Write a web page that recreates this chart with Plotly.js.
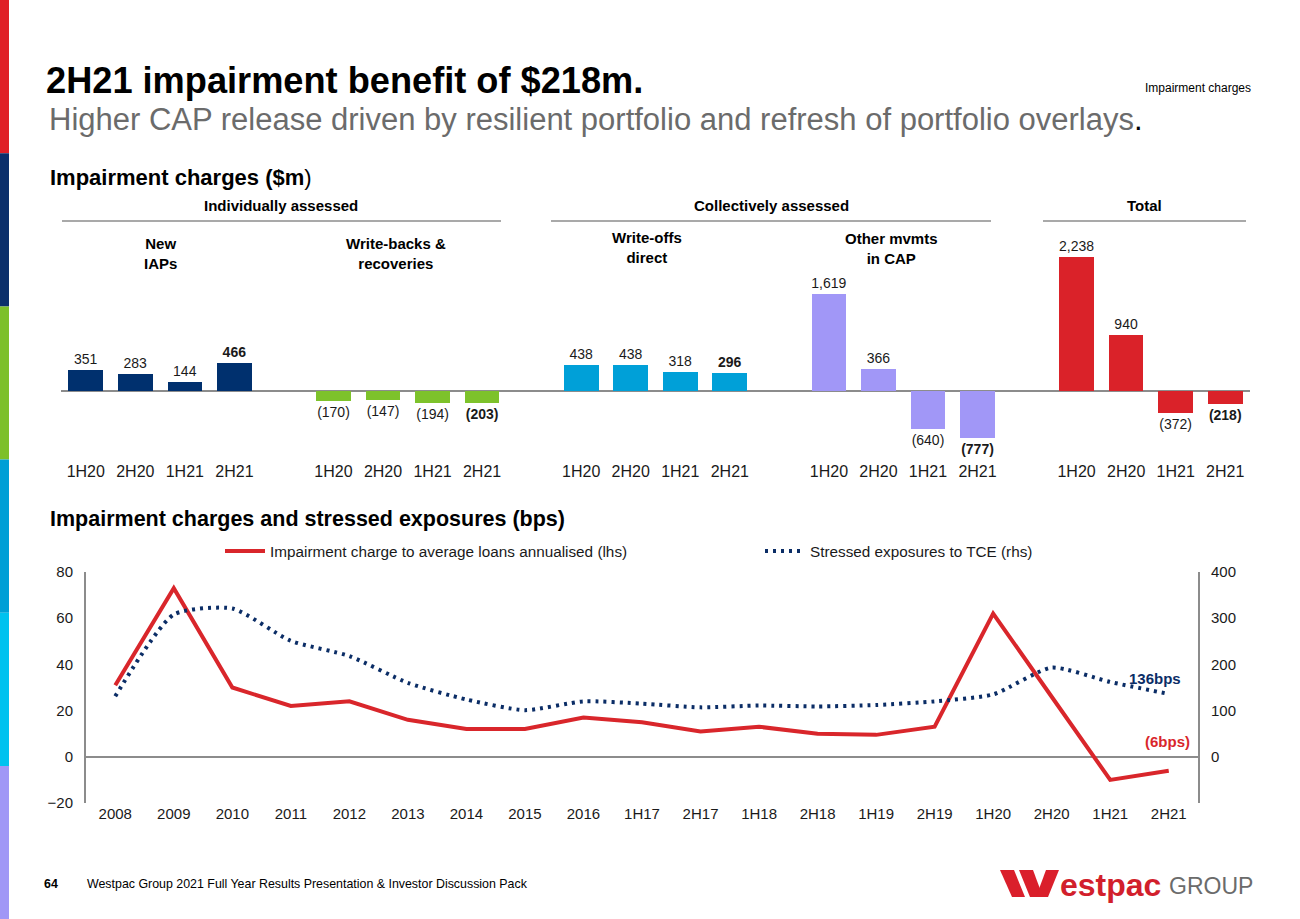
<!DOCTYPE html>
<html>
<head>
<meta charset="utf-8">
<script src="https://cdn.plot.ly/plotly-3.0.1.min.js"></script>
<style>html,body{margin:0;padding:0;background:#fff;}#chart{width:1300px;height:919px;}</style>
</head>
<body>
<div id="chart"></div>
<script>
// ---------- data ----------
const periods = ['1H20', '2H20', '1H21', '2H21'];
const groupLabels = ['New<br>IAPs', 'Write-backs &<br>recoveries', 'Write-offs<br>direct', 'Other mvmts<br>in CAP', 'Total'];
const newIAPs = [351, 283, 144, 466];
const writeBacks = [-170, -147, -194, -203];
const writeOffsDirect = [438, 438, 318, 296];
const otherCAP = [1619, 366, -640, -777];
const totalCharges = [2238, 940, -372, -218];

const lineCategories = ['2008','2009','2010','2011','2012','2013','2014','2015','2016','1H17','2H17','1H18','2H18','1H19','2H19','1H20','2H20','1H21','2H21'];
const impairmentToLoans = [31, 73, 30, 22, 24, 16, 12, 12, 17, 15, 11, 13, 10, 9.5, 13, 62, 26, -10, -6];
const stressedToTCE = [131, 308, 321, 251, 218, 160, 124, 101, 120, 115, 107, 111, 109, 112, 120, 135, 193, 162, 136];

// ---------- helpers ----------
const W = 1300, H = 919;
const px = x => x / W;
const py = y => 1 - y / H;
const FONT = 'Arial, "Liberation Sans", Helvetica, sans-serif';
const fmt = v => {
  const s = Math.abs(v).toLocaleString('en-US');
  return v < 0 ? '(' + s + ')' : s;
};

const barSeries = [
  {vals: newIAPs, color: '#00306E'},
  {vals: writeBacks, color: '#7DC22B'},
  {vals: writeOffsDirect, color: '#00A0D8'},
  {vals: otherCAP, color: '#A197F7'},
  {vals: totalCharges, color: '#DA2229'}
];

const traces = [];
const tickvals = [], ticktext = [];
barSeries.forEach((s, g) => {
  const xs = periods.map((p, i) => g * 5 + i);
  xs.forEach((x, i) => { tickvals.push(x); ticktext.push(periods[i]); });
  traces.push({
    type: 'bar', x: xs, y: s.vals, xaxis: 'x', yaxis: 'y',
    width: 0.7, marker: {color: s.color, line: {width: 0}},
    text: s.vals.map((v, i) => i === s.vals.length - 1 ? '<b>' + fmt(v) + '</b>' : fmt(v)),
    textposition: 'outside', constraintext: 'none', cliponaxis: false,
    textfont: {family: FONT, size: 14, color: '#1a1a1a'},
    hoverinfo: 'skip', showlegend: false
  });
});

traces.push({
  type: 'scatter', mode: 'lines', name: 'Impairment charge to average loans annualised (lhs)',
  x: lineCategories, y: impairmentToLoans, xaxis: 'x2', yaxis: 'y2', legend: 'legend',
  line: {color: '#D9262B', width: 4}, hoverinfo: 'skip'
});
traces.push({
  type: 'scatter', mode: 'lines', name: 'Stressed exposures to TCE (rhs)',
  x: lineCategories, y: stressedToTCE, xaxis: 'x2', yaxis: 'y3', legend: 'legend2',
  line: {color: '#0B2D66', width: 4, dash: '3px,5px', shape: 'spline', smoothing: 0.6}, hoverinfo: 'skip'
});

// ---------- shapes ----------
const shapes = [];
const stripe = ['#E01F26', '#0B2F6B', '#7DC02A', '#009FD6', '#00C2EF', '#A097F6'];
stripe.forEach((c, i) => {
  shapes.push({type: 'rect', xref: 'paper', yref: 'paper', x0: 0, x1: px(9),
    y0: py(Math.min(H, (i + 1) * 153.2)), y1: py(i * 153.2), fillcolor: c, line: {width: 0}, layer: 'below'});
});
[[62, 501], [551, 991], [1043, 1246]].forEach(([a, b]) => {
  shapes.push({type: 'line', xref: 'paper', yref: 'paper', x0: px(a), x1: px(b), y0: py(221), y1: py(221),
    line: {color: '#8c8c8c', width: 1.5}});
});
// Westpac "W" mark
const poly = pts => 'M' + pts.map(p => px(p[0]) + ',' + py(p[1])).join('L') + 'Z';
[
  [[1000, 870], [1014, 870], [1025, 897], [1012, 897]],
  [[1019, 870], [1033, 870], [1043, 897], [1030, 897]],
  [[1046, 870], [1059, 870], [1048, 897], [1036, 897]]
].forEach(p => shapes.push({type: 'path', xref: 'paper', yref: 'paper', path: poly(p), fillcolor: '#DA1F2B', line: {width: 0}}));

// ---------- annotations ----------
const ann = (x, y, text, opts = {}) => Object.assign({
  xref: 'paper', yref: 'paper', x: px(x), y: py(y), text: text, showarrow: false,
  xanchor: 'center', yanchor: 'middle', font: {family: FONT, size: 14, color: '#000'}
}, opts);
const HF = {family: FONT, size: 15, color: '#000'};

const annotations = [
  ann(47, 120, 'Higher CAP release driven by resilient portfolio and refresh of portfolio overlays<span style="color:#000">.</span>',
    {xanchor: 'left', font: {family: FONT, size: 31, color: '#6b6b6b'}}),
  ann(1198, 88, 'Impairment charges', {font: {family: FONT, size: 12, color: '#000'}}),
  ann(48, 178, '<b>Impairment charges ($m</b>)', {xanchor: 'left', font: {family: FONT, size: 22, color: '#000'}}),
  ann(281, 206, '<b>Individually assessed</b>', {font: HF}),
  ann(771, 206, '<b>Collectively assessed</b>', {font: HF}),
  ann(1144, 206, '<b>' + groupLabels[4] + '</b>', {font: HF}),
  ann(160, 253, '<b>' + groupLabels[0] + '</b>', {font: HF}),
  ann(396, 253, '<b>' + groupLabels[1] + '</b>', {font: HF}),
  ann(647, 247, '<b>' + groupLabels[2] + '</b>', {font: HF}),
  ann(891, 248, '<b>' + groupLabels[3] + '</b>', {font: HF}),
  ann(48, 519, '<b>Impairment charges and stressed exposures (bps)</b>', {xanchor: 'left', font: {family: FONT, size: 21.5, color: '#000'}}),
  ann(1155, 678, '<b>136bps</b>', {font: {family: FONT, size: 15, color: '#0B2D66'}}),
  ann(1167, 741, '<b>(6bps)</b>', {font: {family: FONT, size: 15, color: '#D9262B'}}),
  ann(42, 884, '<b>64</b>', {xanchor: 'left', font: {family: FONT, size: 12.4, color: '#000'}}),
  ann(85, 884, 'Westpac Group 2021 Full Year Results Presentation &amp; Investor Discussion Pack', {xanchor: 'left', font: {family: FONT, size: 12.4, color: '#000'}}),
  ann(1058, 885, '<b>estpac</b>', {xanchor: 'left', font: {family: FONT, size: 32, color: '#D21F2C'}}),
  ann(1167, 886, 'GROUP', {xanchor: 'left', font: {family: FONT, size: 23, color: '#6b6b6b'}})
];

const LF = {family: FONT, size: 15.3, color: '#1a1a1a'};
const layout = {
  width: W, height: H,
  margin: {l: 0, r: 0, t: 0, b: 0, pad: 0},
  paper_bgcolor: '#fff', plot_bgcolor: 'rgba(0,0,0,0)',
  font: {family: FONT, size: 14, color: '#1a1a1a'},
  title: {text: '<b>2H21 impairment benefit of $218m.</b>', x: px(46), xanchor: 'left', y: py(80), yanchor: 'middle',
    xref: 'container', yref: 'container', font: {family: FONT, size: 36.2, color: '#000'}},
  bargap: 0,
  showlegend: true,
  legend: {orientation: 'h', x: px(220), xanchor: 'left', y: py(551), yanchor: 'middle', itemwidth: 40,
    font: LF, bgcolor: 'rgba(0,0,0,0)'},
  legend2: {orientation: 'h', x: px(760), xanchor: 'left', y: py(551), yanchor: 'middle', itemwidth: 40,
    font: LF, bgcolor: 'rgba(0,0,0,0)'},
  xaxis: {domain: [px(61), px(1250)], range: [-0.5, 23.5], anchor: 'y', tickvals: tickvals, ticktext: ticktext,
    showgrid: false, zeroline: false, showline: false, ticks: '', tickfont: {family: FONT, size: 16, color: '#1a1a1a'}, fixedrange: true},
  yaxis: {domain: [py(460), py(247)], range: [-1150, 2400], anchor: 'x', showticklabels: false, showgrid: false,
    zeroline: true, zerolinecolor: '#8c8c8c', zerolinewidth: 2, showline: false, fixedrange: true},
  xaxis2: {domain: [px(86), px(1198)], anchor: 'y2', type: 'category', range: [-0.5, 18.5],
    showgrid: false, zeroline: false, showline: false, ticks: '', tickfont: {family: FONT, size: 15, color: '#1a1a1a'}, fixedrange: true},
  yaxis2: {domain: [py(803), py(572)], anchor: 'x2', range: [-20, 80], tickvals: [-20, 0, 20, 40, 60, 80],
    showgrid: false, zeroline: true, zerolinecolor: '#8c8c8c', zerolinewidth: 2,
    showline: true, linecolor: '#8c8c8c', linewidth: 2, ticks: '', ticklabelstandoff: 8,
    tickfont: {family: FONT, size: 15, color: '#1a1a1a'}, fixedrange: true},
  yaxis3: {overlaying: 'y2', side: 'right', anchor: 'x2', range: [-100, 400], tickvals: [0, 100, 200, 300, 400],
    showgrid: false, zeroline: false, showline: true, linecolor: '#8c8c8c', linewidth: 2, ticks: '', ticklabelstandoff: 8,
    tickfont: {family: FONT, size: 15, color: '#1a1a1a'}, fixedrange: true},
  shapes: shapes,
  annotations: annotations
};

Plotly.newPlot('chart', traces, layout, {displayModeBar: false, staticPlot: true});
</script>
</body>
</html>
